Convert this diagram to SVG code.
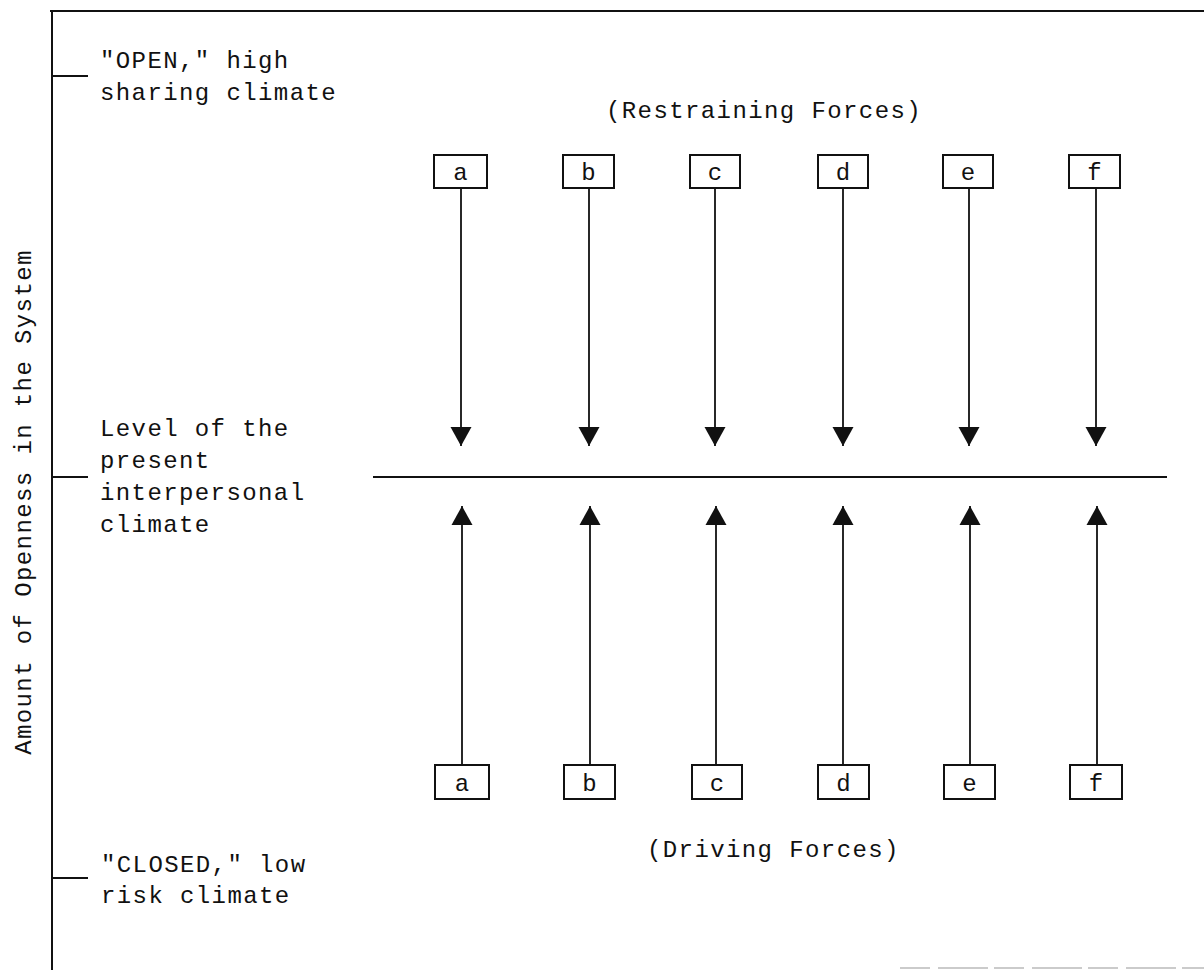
<svg xmlns="http://www.w3.org/2000/svg" width="1204" height="970" viewBox="0 0 1204 970">
  <style>
    text { font-family: "Liberation Mono", "DejaVu Sans Mono", monospace; font-size: 24px; letter-spacing: 1.4px; fill: #111; }
    .box rect { fill: #fff; stroke: #111; stroke-width: 2; }
    .box text { text-anchor: middle; letter-spacing: 0; }
    .ln { stroke: #111; stroke-width: 2; fill: none; }
    .arr { stroke: #111; stroke-width: 1.8; fill: none; marker-end: url(#head); }
  </style>
  <defs>
    <marker id="head" markerUnits="userSpaceOnUse" markerWidth="20" markerHeight="22" refX="19" refY="11" orient="auto">
      <path d="M0,0.5 L19,11 L0,21.5 z" fill="#111"/>
    </marker>
  </defs>
  <rect x="0" y="0" width="1204" height="970" fill="#fff"/>

  <g id="frame">
    <line class="ln" x1="50" y1="11" x2="1204" y2="11"/>
    <line class="ln" x1="52" y1="10" x2="52" y2="970"/>
    <line class="ln" x1="52" y1="76" x2="88" y2="76"/>
    <line class="ln" x1="52" y1="477" x2="88" y2="477"/>
    <line class="ln" x1="52" y1="878" x2="88" y2="878"/>
    <line x1="900" y1="968" x2="1204" y2="968" stroke="#bbb" stroke-width="1.5" stroke-dasharray="30 8 50 6"/>
  </g>

  <g id="axis-label">
    <text x="0" y="0" transform="translate(31,502) rotate(-90)" text-anchor="middle">Amount of Openness in the System</text>
  </g>

  <g id="label-open">
    <text x="100" y="68">"OPEN," high</text>
    <text x="100" y="100">sharing climate</text>
  </g>
  <g id="label-level">
    <text x="100" y="436">Level of the</text>
    <text x="100" y="468">present</text>
    <text x="100" y="500">interpersonal</text>
    <text x="100" y="532">climate</text>
  </g>
  <g id="label-closed">
    <text x="101" y="872">"CLOSED," low</text>
    <text x="101" y="903">risk climate</text>
  </g>
  <g id="title-restraining">
    <text x="606" y="118">(Restraining Forces)</text>
  </g>
  <g id="title-driving">
    <text x="647" y="857">(Driving Forces)</text>
  </g>

  <g id="level-line">
    <line class="ln" x1="373" y1="477" x2="1167" y2="477"/>
  </g>

  <g id="connectors">
    <line class="arr" x1="461" y1="188" x2="461" y2="446"/>
    <line class="arr" x1="589" y1="188" x2="589" y2="446"/>
    <line class="arr" x1="715" y1="188" x2="715" y2="446"/>
    <line class="arr" x1="843" y1="188" x2="843" y2="446"/>
    <line class="arr" x1="969" y1="188" x2="969" y2="446"/>
    <line class="arr" x1="1096" y1="188" x2="1096" y2="446"/>
    <line class="arr" x1="462" y1="765" x2="462" y2="506"/>
    <line class="arr" x1="590" y1="765" x2="590" y2="506"/>
    <line class="arr" x1="716" y1="765" x2="716" y2="506"/>
    <line class="arr" x1="843" y1="765" x2="843" y2="506"/>
    <line class="arr" x1="970" y1="765" x2="970" y2="506"/>
    <line class="arr" x1="1097" y1="765" x2="1097" y2="506"/>
  </g>

  <g id="top-a" class="box"><rect x="434" y="155" width="53" height="33"/><text x="460.5" y="180">a</text></g>
  <g id="top-b" class="box"><rect x="563" y="155" width="51" height="33"/><text x="588.5" y="180">b</text></g>
  <g id="top-c" class="box"><rect x="690" y="155" width="50" height="33"/><text x="715" y="180">c</text></g>
  <g id="top-d" class="box"><rect x="818" y="155" width="50" height="33"/><text x="843" y="180">d</text></g>
  <g id="top-e" class="box"><rect x="943" y="155" width="50" height="33"/><text x="968" y="180">e</text></g>
  <g id="top-f" class="box"><rect x="1069" y="155" width="51" height="33"/><text x="1094.5" y="180">f</text></g>

  <g id="bottom-a" class="box"><rect x="435" y="765" width="54" height="34"/><text x="462" y="791">a</text></g>
  <g id="bottom-b" class="box"><rect x="564" y="765" width="51" height="34"/><text x="589.5" y="791">b</text></g>
  <g id="bottom-c" class="box"><rect x="692" y="765" width="50" height="34"/><text x="717" y="791">c</text></g>
  <g id="bottom-d" class="box"><rect x="818" y="765" width="51" height="34"/><text x="843.5" y="791">d</text></g>
  <g id="bottom-e" class="box"><rect x="944" y="765" width="51" height="34"/><text x="969.5" y="791">e</text></g>
  <g id="bottom-f" class="box"><rect x="1070" y="765" width="52" height="34"/><text x="1096" y="791">f</text></g>
</svg>
